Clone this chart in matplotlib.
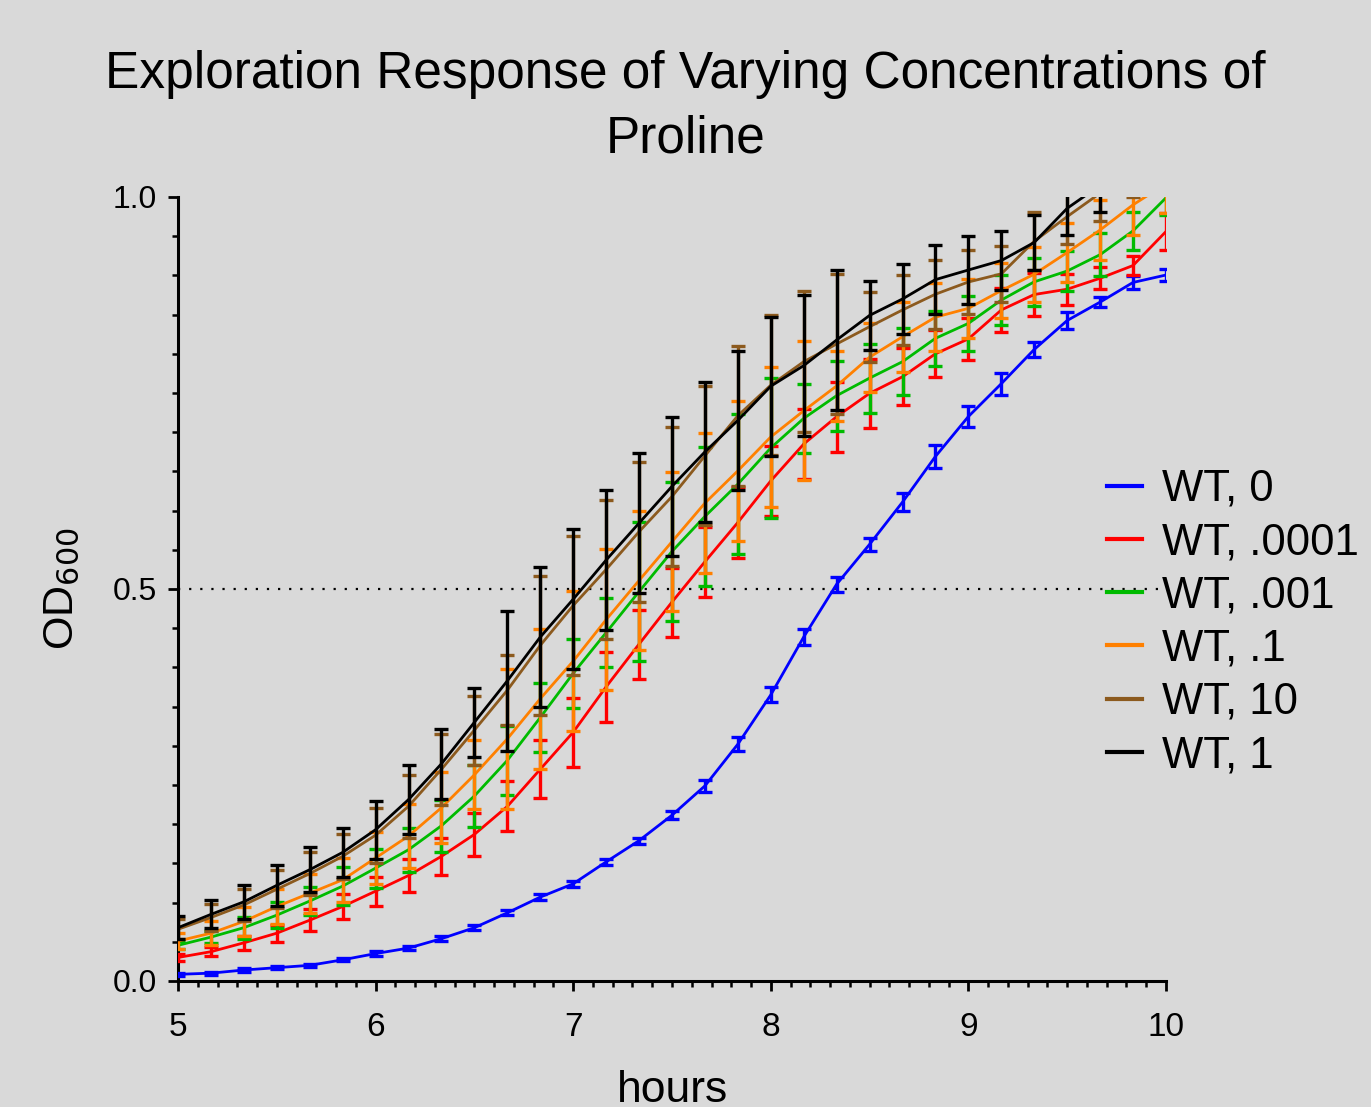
import matplotlib
matplotlib.use("Agg")
import matplotlib.pyplot as plt
from matplotlib.ticker import MultipleLocator, FixedLocator

plt.rcParams['font.family'] = ['Liberation Sans', 'DejaVu Sans']

hours = [5.0, 5.167, 5.333, 5.5, 5.667, 5.833, 6.0, 6.167, 6.333, 6.5, 6.667, 6.833,
         7.0, 7.167, 7.333, 7.5, 7.667, 7.833, 8.0, 8.167, 8.333, 8.5, 8.667, 8.833,
         9.0, 9.167, 9.333, 9.5, 9.667, 9.833, 10.0]

labels = ["WT, 0", "WT, .0001", "WT, .001", "WT, .1", "WT, 10", "WT, 1"]

wt_0 = [0.0085, 0.010, 0.014, 0.017, 0.020, 0.027, 0.035, 0.042, 0.054, 0.068, 0.087, 0.107,
        0.124, 0.152, 0.179, 0.2115, 0.249, 0.302, 0.365, 0.439, 0.506, 0.557, 0.611, 0.669,
        0.720, 0.762, 0.8055, 0.8425, 0.866, 0.891, 0.9005]
wt_0_err = [0.002, 0.002, 0.002, 0.002, 0.002, 0.002, 0.003, 0.003, 0.003, 0.003, 0.003, 0.004,
            0.004, 0.004, 0.004, 0.005, 0.0074, 0.0087, 0.0096, 0.0106, 0.0096, 0.008, 0.012, 0.015,
            0.014, 0.014, 0.010, 0.011, 0.006, 0.008, 0.008]

wt_0001 = [0.030, 0.0374, 0.0487, 0.061, 0.0776, 0.095, 0.1146, 0.1346, 0.159, 0.187, 0.2228, 0.270,
           0.3174, 0.3754, 0.4296, 0.4834, 0.5349, 0.5848, 0.638, 0.685, 0.7198, 0.7496, 0.7708, 0.800,
           0.819, 0.856, 0.8756, 0.8824, 0.8964, 0.9126, 0.956]
wt_0001_err = [0.005, 0.006, 0.009, 0.011, 0.014, 0.016, 0.0185, 0.021, 0.024, 0.027, 0.032, 0.037,
               0.044, 0.0446, 0.044, 0.044, 0.0446, 0.045, 0.045, 0.045, 0.0446, 0.044, 0.036, 0.030,
               0.027, 0.028, 0.027, 0.020, 0.014, 0.012, 0.024]

wt_001 = [0.0455, 0.056, 0.068, 0.084, 0.102, 0.121, 0.144, 0.1675, 0.198, 0.236, 0.2815, 0.336,
          0.3925, 0.4445, 0.4966, 0.548, 0.5927, 0.6337, 0.680, 0.7177, 0.7466, 0.769, 0.790, 0.8197,
          0.8388, 0.8686, 0.8918, 0.9056, 0.9265, 0.9568, 0.999]
wt_001_err = [0.005, 0.008, 0.014, 0.017, 0.018, 0.024, 0.025, 0.028, 0.033, 0.040, 0.044, 0.044,
              0.044, 0.0436, 0.089, 0.089, 0.089, 0.089, 0.089, 0.044, 0.0446, 0.044, 0.043, 0.035,
              0.035, 0.032, 0.031, 0.0255, 0.027, 0.0245, 0.022]

wt_1 = [0.051, 0.061, 0.076, 0.095, 0.112, 0.129, 0.157, 0.185, 0.221, 0.263, 0.309, 0.360,
        0.408, 0.461, 0.5108, 0.5604, 0.6097, 0.6507, 0.694, 0.7274, 0.759, 0.7957, 0.8218, 0.8467,
        0.858, 0.8807, 0.9015, 0.9292, 0.958, 0.990, 1.017]
wt_1_err = [0.010, 0.015, 0.018, 0.022, 0.025, 0.028, 0.033, 0.041, 0.045, 0.044, 0.089, 0.089,
            0.089, 0.0897, 0.0887, 0.089, 0.089, 0.089, 0.089, 0.089, 0.045, 0.044, 0.0446, 0.043,
            0.038, 0.035, 0.035, 0.037, 0.038, 0.038, 0.038]

wt_10 = [0.066, 0.081, 0.097, 0.117, 0.137, 0.159, 0.186, 0.223, 0.270, 0.320, 0.371, 0.428,
         0.479, 0.525, 0.573, 0.618, 0.670, 0.721, 0.760, 0.790, 0.8125, 0.8346, 0.856, 0.876,
         0.8916, 0.902, 0.9435, 0.975, 1.005, 1.035, 1.065]
wt_10_err = [0.013, 0.017, 0.020, 0.024, 0.027, 0.029, 0.035, 0.040, 0.045, 0.044, 0.045, 0.089,
             0.089, 0.089, 0.089, 0.089, 0.089, 0.089, 0.089, 0.0895, 0.089, 0.0446, 0.0446, 0.044,
             0.041, 0.036, 0.037, 0.035, 0.035, 0.035, 0.035]

wt_one = [0.068, 0.085, 0.101, 0.122, 0.142, 0.164, 0.193, 0.2315, 0.277, 0.330, 0.383, 0.4386,
          0.487, 0.537, 0.584, 0.631, 0.675, 0.715, 0.7587, 0.785, 0.8176, 0.849, 0.870, 0.8946,
          0.9069, 0.919, 0.942, 0.9856, 1.015, 1.04, 1.07]
wt_one_err = [0.015, 0.018, 0.022, 0.026, 0.029, 0.031, 0.037, 0.044, 0.045, 0.044, 0.089, 0.089,
              0.089, 0.089, 0.089, 0.089, 0.089, 0.089, 0.0887, 0.0894, 0.089, 0.044, 0.0446, 0.044,
              0.0434, 0.038, 0.035, 0.034, 0.034, 0.034, 0.034]

series = [wt_0, wt_0001, wt_001, wt_1, wt_10, wt_one]
errors = [wt_0_err, wt_0001_err, wt_001_err, wt_1_err, wt_10_err, wt_one_err]
colors = ["#0000ff", "#ff0000", "#00bb00", "#ff8000", "#8c5a1e", "#000000"]

bg = "#d9d9d9"
fig = plt.figure(figsize=(13.71, 11.07), dpi=100, facecolor=bg)
ax = fig.add_axes([178/1371, 1 - 981/1107, 988/1371, 784/1107], facecolor=bg)

for i, (y, e, c, lab) in enumerate(zip(series, errors, colors, labels)):
    ax.errorbar(hours, y, yerr=e, fmt='none', ecolor=c, elinewidth=2.4,
                capsize=5, capthick=2.4, zorder=3 + i)
    ax.plot(hours, y, color=c, lw=2.0, label=lab, zorder=3 + i)

ax.axhline(0.5, color='black', lw=1.6, ls=(0, (1, 4)), zorder=2)

ax.set_xlim(5, 10)
ax.set_ylim(0, 1.0)
ax.xaxis.set_major_locator(FixedLocator([5, 6, 7, 8, 9, 10]))
ax.xaxis.set_minor_locator(MultipleLocator(0.1))
ax.yaxis.set_major_locator(FixedLocator([0.0, 0.5, 1.0]))
ax.yaxis.set_minor_locator(MultipleLocator(0.05))
ax.set_xticklabels(["5", "6", "7", "8", "9", "10"])
ax.set_yticklabels(["0.0", "0.5", "1.0"])

for s in ["top", "right"]:
    ax.spines[s].set_visible(False)
for s in ["left", "bottom"]:
    ax.spines[s].set_linewidth(2.2)

ax.tick_params(axis='both', which='major', direction='out', length=7, width=2.0)
ax.tick_params(axis='both', which='minor', direction='out', length=4, width=1.8)
ax.tick_params(axis='x', which='major', pad=15, labelsize=24)
ax.tick_params(axis='y', which='major', pad=8, labelsize=23)

ax.set_xlabel("hours", fontsize=32, labelpad=20)
ax.set_ylabel("OD$_{600}$", fontsize=31, labelpad=22)

fig.suptitle("Exploration Response of Varying Concentrations of\nProline",
             fontsize=37, y=1 - 50/1107, va='top', linespacing=1.42)

leg = ax.legend(loc='upper left', bbox_to_anchor=(1085/1371, 1 - 447/1107),
                bbox_transform=fig.transFigure, frameon=False, fontsize=31.5,
                handlelength=0.8, handletextpad=0.46, labelspacing=0.28,
                borderpad=0)
for line in leg.get_lines():
    line.set_linewidth(3)

fig.savefig("out.png", dpi=100, facecolor=bg)
